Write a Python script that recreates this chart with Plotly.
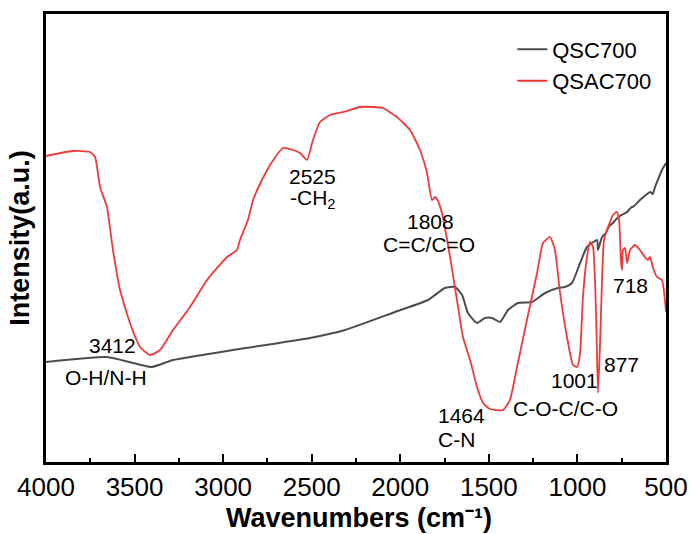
import plotly.graph_objects as go

# QSAC700 (red)
qsac_wn = [4000, 3848, 3752, 3723, 3695, 3656, 3622, 3582, 3526, 3469, 3413, 3356, 3283,
           3187, 3091, 2978, 2922, 2905, 2860, 2831, 2792, 2735, 2662, 2606, 2566, 2527,
           2493, 2453, 2397, 2323, 2227, 2154, 2098, 2019, 1945, 1889, 1849, 1821, 1804,
           1793, 1765, 1719, 1680, 1646, 1606, 1567, 1533, 1494, 1420, 1381, 1341, 1285,
           1228, 1194, 1155, 1127, 1098, 1059, 1025, 1002, 985, 969, 946, 929, 912, 895,
           884, 873, 861, 850, 827, 799, 777, 765, 754, 748, 743, 731, 720, 703, 675, 647,
           619, 602, 590, 573, 551, 523, 500]
qsac_int = [306, 311, 310, 305, 275, 255, 212, 172, 139, 115, 107, 112, 132,
            155, 182, 205, 212, 222, 242, 262, 278, 297, 314, 312, 309, 302,
            322, 340, 347, 350, 355, 355, 354, 345, 332, 312, 289, 262, 265,
            263, 249, 205, 162, 125, 102, 75, 59, 53, 52, 62, 95, 142,
            189, 219, 225, 212, 169, 125, 97, 95, 109, 165, 205, 220, 215, 149,
            69, 115, 182, 222, 235, 247, 250, 242, 200, 192, 212, 214, 199, 212, 217, 212,
            205, 202, 205, 194, 185, 182, 150]

# QSC700 (gray)
qsc_wn = [4000, 3656, 3509, 3402, 3283, 2944, 2510, 2312, 2030, 1844, 1748, 1691, 1651,
          1618, 1567, 1522, 1482, 1437, 1392, 1336, 1257, 1183, 1110, 1070, 1031, 985,
          946, 889, 884, 861, 840, 820, 799, 780, 760, 740, 720, 700, 680, 647, 620, 590,
          575, 562, 546, 523, 500]
qsc_int = [100, 105, 99, 95, 102, 112, 124, 132, 150, 162, 174, 175, 167,
           149, 139, 144, 144, 140, 152, 159, 160, 169, 174, 175, 179, 199,
           215, 222, 212, 225, 229, 236, 239, 243, 246, 248, 250, 254, 256, 262, 266, 270,
           268, 275, 282, 292, 299]

# peak labels
lab_text = ["3412", "O-H/N-H", "2525", "-CH<sub>2</sub>", "1808", "C=C/C=O",
            "1464", "C-N", "1001", "877", "C-O-C/C-O", "718"]
lab_wn = [3627, 3661, 2498, 2493, 1832, 1838, 1657, 1680, 1014, 754, 1065, 698]
lab_int = [117, 85, 286, 263, 241, 218, 47, 23, 82, 98, 54, 177]

x_ticks = [4000, 3500, 3000, 2500, 2000, 1500, 1000, 500]

FONT = "Liberation Sans, Arial, sans-serif"

fig = go.Figure()
fig.add_trace(go.Scatter(x=qsc_wn, y=qsc_int, mode="lines", name="QSC700",
                         line=dict(color="#4d4d4d", width=2, shape="spline", smoothing=0.5)))
fig.add_trace(go.Scatter(x=qsac_wn, y=qsac_int, mode="lines", name="QSAC700",
                         line=dict(color="#f03a3a", width=1.8, shape="spline", smoothing=0.5)))

for t, xv, yv in zip(lab_text, lab_wn, lab_int):
    fig.add_annotation(x=xv, y=yv, text=t, showarrow=False, xanchor="center",
                       yanchor="middle", font=dict(family=FONT, size=21, color="black"))

# x-axis title as a paper annotation placed below the tick labels
fig.add_annotation(x=0.505, y=-0.124, xref="paper", yref="paper",
                   text="<b>Wavenumbers (cm⁻¹)</b>", showarrow=False,
                   xanchor="center", yanchor="middle", borderpad=0,
                   font=dict(family=FONT, size=27, color="black"))

fig.update_layout(
    width=690, height=534,
    margin=dict(l=46, r=24, t=14, b=72, autoexpand=False),
    plot_bgcolor="white", paper_bgcolor="white",
    font=dict(family=FONT, color="black"),
    showlegend=True,
    legend=dict(x=0.752, y=0.968, xanchor="left", yanchor="top",
                bgcolor="rgba(0,0,0,0)", font=dict(family=FONT, size=22),
                tracegroupgap=0, itemwidth=30),
)
fig.update_xaxes(
    range=[4000, 500], tickvals=x_ticks, ticks="inside", ticklen=8, tickwidth=2,
    tickcolor="black", showline=True, linewidth=2.5, linecolor="black", mirror=True,
    showgrid=False, zeroline=False, automargin=False,
    tickfont=dict(family=FONT, size=26, color="black"),
    minor=dict(ticks="inside", ticklen=4, tickwidth=2, tickcolor="black",
               tickvals=[3750, 3250, 2750, 2250, 1750, 1250, 750], showgrid=False),
)
fig.update_yaxes(
    range=[0, 448], showticklabels=False, ticks="", showline=True, linewidth=2.5,
    linecolor="black", mirror=True, showgrid=False, zeroline=False, automargin=False,
    title=dict(text="<b>Intensity(a.u.)</b>",
               font=dict(family=FONT, size=27, color="black"), standoff=6),
)

fig.write_html("out.html")
